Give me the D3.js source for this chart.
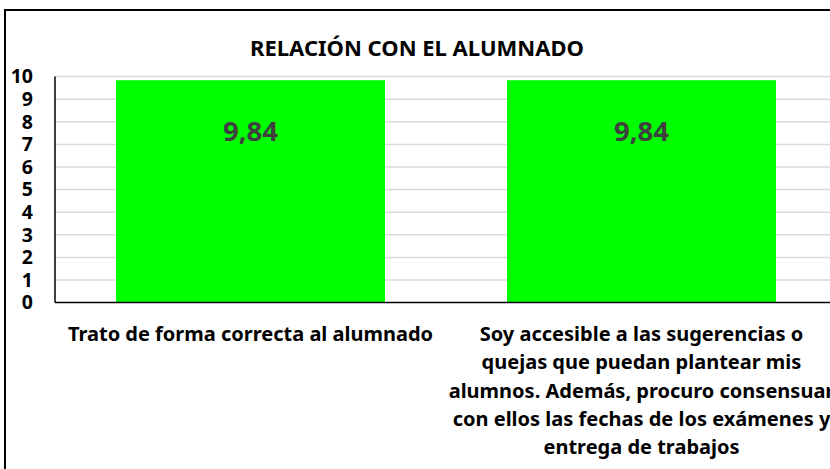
<!DOCTYPE html>
<meta charset="utf-8">
<head>
	<title>Relación con el alumnado</title>
	<script src="https://cdn.jsdelivr.net/npm/d3@7"></script>
	<style>
		body { margin: 0; background: #fff; }
		text { font-family: "Noto Sans", "DejaVu Sans", sans-serif; font-weight: 700; }
		.grid line { stroke: #d9d9d9; stroke-width: 1.5; }
	</style>
</head>
<body>
<div id="chart"></div>
<script>
	// data
	var categories = ["cat1", "cat2"];
	var values = [9.84, 9.84];
	var valueLabels = ["9,84", "9,84"];
	var categoryLines = [
		["Trato de forma correcta al alumnado"],
		["Soy accesible a las sugerencias o", "quejas que puedan plantear mis",
		 "alumnos. Además, procuro consensuar", "con ellos las fechas de los exámenes y",
		 "entrega de trabajos"]
	];
	var yTicks = [0, 1, 2, 3, 4, 5, 6, 7, 8, 9, 10];

	var width = 830, height = 469;
	var plot = {left: 55, right: 837, top: 76.6, bottom: 302.6};

	var svg = d3.select("#chart").append("svg")
		.attr("width", width)
		.attr("height", height);

	// outer chart border
	svg.append("rect")
		.attr("x", 5).attr("y", 10)
		.attr("width", 840).attr("height", 480)
		.attr("fill", "none").attr("stroke", "#000").attr("stroke-width", 2);

	var x = d3.scaleBand().domain(categories)
		.range([plot.left, plot.right])
		.paddingInner(0.312).paddingOuter(0.156);
	var y = d3.scaleLinear().domain([0, 10]).range([plot.bottom, plot.top]);

	// gridlines
	svg.append("g").attr("class", "grid")
		.selectAll("line").data(yTicks.filter(d => d > 0)).join("line")
		.attr("x1", plot.left).attr("x2", plot.right)
		.attr("y1", d => y(d)).attr("y2", d => y(d));

	// bars
	svg.selectAll(".bar").data(values).join("rect")
		.attr("class", "bar")
		.attr("x", (d, i) => x(categories[i]))
		.attr("width", x.bandwidth())
		.attr("y", d => y(d))
		.attr("height", d => y(0) - y(d))
		.attr("fill", "#00ff00");

	// axes lines
	svg.append("line")
		.attr("x1", plot.left).attr("x2", plot.left)
		.attr("y1", plot.top).attr("y2", plot.bottom)
		.attr("stroke", "#000").attr("stroke-width", 1.5);
	svg.append("line")
		.attr("x1", plot.left).attr("x2", plot.right)
		.attr("y1", plot.bottom).attr("y2", plot.bottom)
		.attr("stroke", "#000").attr("stroke-width", 1.5);

	// y tick labels
	svg.selectAll(".ytick").data(yTicks).join("text")
		.attr("class", "ytick")
		.attr("x", 33)
		.attr("y", d => y(d))
		.attr("dy", "0.35em")
		.attr("text-anchor", "end")
		.attr("font-size", 19.5)
		.text(d => d);

	// value labels
	svg.selectAll(".vlabel").data(values).join("text")
		.attr("class", "vlabel")
		.attr("x", (d, i) => x(categories[i]) + x.bandwidth() / 2)
		.attr("y", 131)
		.attr("dy", "0.35em")
		.attr("text-anchor", "middle")
		.attr("font-size", 27.5)
		.attr("fill", "#404040")
		.text((d, i) => valueLabels[i]);

	// category labels
	categories.forEach(function(c, i) {
		svg.append("g").selectAll("text").data(categoryLines[i]).join("text")
			.attr("x", x(c) + x.bandwidth() / 2)
			.attr("y", (d, j) => 334 + j * 28.3)
			.attr("dy", "0.35em")
			.attr("text-anchor", "middle")
			.attr("font-size", 20)
			.attr("fill", "#000")
			.text(d => d);
	});

	// title
	svg.append("text")
		.attr("x", 417).attr("y", 48)
		.attr("dy", "0.35em")
		.attr("text-anchor", "middle")
		.attr("font-size", 22)
		.text("RELACIÓN CON EL ALUMNADO");
</script>
</body>
</html>
